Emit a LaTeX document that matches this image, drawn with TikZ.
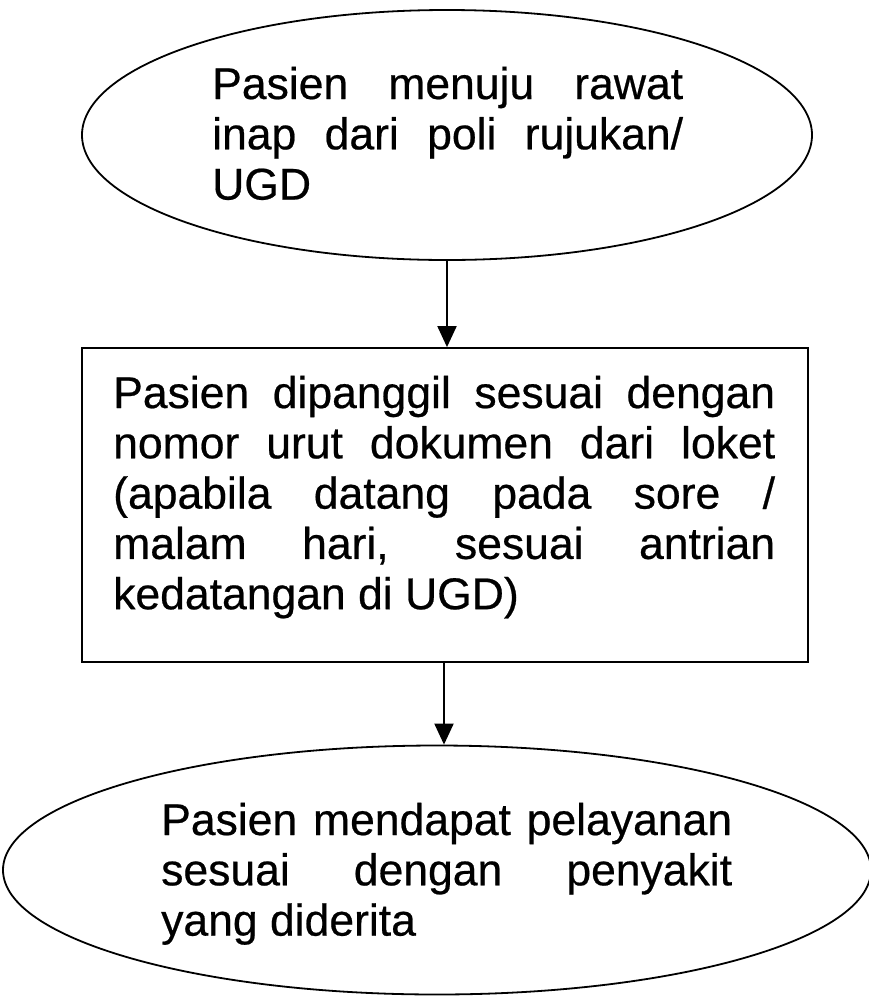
\documentclass[tikz,border=0pt]{standalone}
\usepackage{fontspec}
\setmainfont{Liberation Sans}
\newfontfamily\flowfont[FakeBold=0.5]{Liberation Sans}
\usetikzlibrary{shapes.geometric,arrows.meta}
\tikzset{
  shapeline/.style={draw=black, line width=1.8pt},
  ovalbox/.style={shapeline, ellipse, inner sep=0pt},
  procbox/.style={shapeline, rectangle, inner sep=0pt},
  flowtext/.style={anchor=base west, inner sep=0pt, font=\flowfont\fontsize{44.5}{50.3}\selectfont},
  flowarrow/.style={draw=black, line width=2pt, -{Triangle[length=21pt,width=19pt]}}
}
\newcommand{\jtext}[2]{\parbox[t]{#1}{\tolerance=10000\hbadness=10000\hyphenpenalty=10000\parindent=0pt\parfillskip=0pt plus 1fil #2}}
\begin{document}
\begin{tikzpicture}[x=1pt,y=1pt]
\useasboundingbox (0,0) rectangle (869,-997);
\node[ovalbox, minimum width=730pt, minimum height=250pt] (top) at (447,-135) {};
\node[procbox, minimum width=726pt, minimum height=314pt] (mid) at (445,-505) {};
\node[ovalbox, minimum width=868pt, minimum height=249pt] (bot) at (437,-870) {};
\node[flowtext] (toptext) at (212,-99) {\jtext{471pt}{Pasien menuju rawat\linebreak inap dari poli rujukan/\linebreak UGD}};
\node[flowtext] (midtext) at (113,-408) {\jtext{662pt}{Pasien dipanggil sesuai dengan\linebreak nomor urut dokumen dari loket\linebreak (apabila datang pada sore /\linebreak malam hari, sesuai antrian\linebreak kedatangan di UGD)}};
\node[flowtext] (bottext) at (161,-835) {\jtext{571pt}{Pasien mendapat pelayanan\linebreak sesuai dengan penyakit\linebreak yang diderita}};
\draw[flowarrow] (top.south) -- (top.south |- mid.north);
\draw[flowarrow] ([xshift=-1pt]mid.south) -- ([xshift=-1pt]mid.south |- bot.north);
\end{tikzpicture}
\end{document}
